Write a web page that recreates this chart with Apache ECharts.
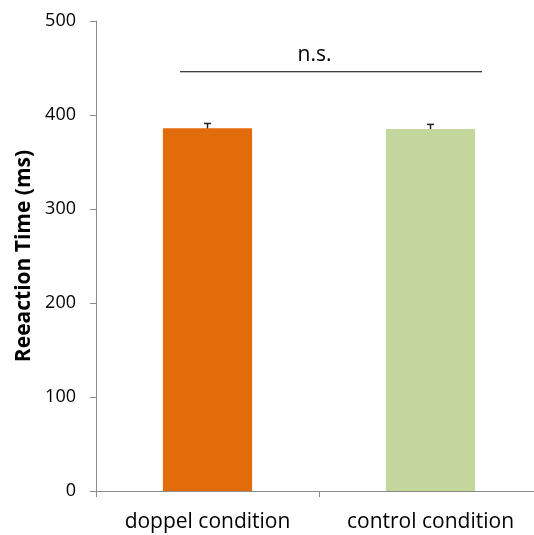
<!DOCTYPE html>
<html>
<head>
<meta charset="utf-8">
<script src="https://cdn.jsdelivr.net/npm/echarts@6/dist/echarts.min.js"></script>
<style>
  html, body { margin: 0; padding: 0; background: #fff; }
  #chart { width: 534px; height: 535px; }
</style>
</head>
<body>
<div id="chart"></div>
<script>
// chart data
const categories = ['doppel condition', 'control condition']
const reactionTimes = [386, 385]
const errors = [5, 5]
const barColors = ['#E36C0A', '#C3D69B']
const yTicks = [0, 100, 200, 300, 400, 500]

// significance bracket: ends given in category units, 0 = centre of first category
const sigFrom = -0.123
const sigTo = 1.231
const sigLevel = 446
const sigLabel = 'n.s.'

const font = '"Open Sans", sans-serif'
const axisGray = '#8C8C8C'

const chart = echarts.init(document.getElementById('chart'))

chart.setOption({
  animation: false,
  backgroundColor: '#fff',
  textStyle: { fontFamily: font },
  grid: { left: 96, top: 21, width: 446, height: 470, outerBoundsMode: 'none', containLabel: false },
  xAxis: {
    type: 'category',
    data: categories,
    axisLine: { lineStyle: { color: axisGray, width: 1 } },
    axisTick: { show: true, alignWithLabel: false, length: 6, lineStyle: { color: axisGray } },
    axisLabel: { color: '#000', fontSize: 21, margin: 21, fontFamily: font }
  },
  yAxis: {
    type: 'value',
    min: yTicks[0],
    max: yTicks[yTicks.length - 1],
    interval: 100,
    name: 'Reeaction Time (ms)',
    nameLocation: 'middle',
    nameGap: 59,
    nameTextStyle: { color: '#000', fontSize: 21, fontWeight: 'bold', fontFamily: font },
    axisLine: { show: true, lineStyle: { color: axisGray, width: 1 } },
    axisTick: { show: true, inside: false, length: 6, lineStyle: { color: axisGray } },
    axisLabel: { color: '#000', fontSize: 18, margin: 20, fontFamily: font },
    splitLine: { show: false }
  },
  series: [
    {
      type: 'bar',
      barWidth: '40%',
      z: 3,
      data: reactionTimes.map((v, i) => ({ value: v, itemStyle: { color: barColors[i] } }))
    },
    {
      type: 'custom',
      z: 2,
      data: reactionTimes.map((v, i) => [i, v - errors[i], v + errors[i]]),
      renderItem: (params, api) => {
        const lo = api.coord([api.value(0), api.value(1)])
        const hi = api.coord([api.value(0), api.value(2)])
        const half = 3.5
        const style = { stroke: '#222', lineWidth: 1.5 }
        return {
          type: 'group',
          children: [
            { type: 'line', shape: { x1: hi[0], y1: hi[1], x2: lo[0], y2: lo[1] }, style },
            { type: 'line', shape: { x1: hi[0] - half, y1: hi[1], x2: hi[0] + half, y2: hi[1] }, style },
            { type: 'line', shape: { x1: lo[0] - half, y1: lo[1], x2: lo[0] + half, y2: lo[1] }, style }
          ]
        }
      }
    },
    {
      type: 'custom',
      z: 4,
      data: [[0, sigLevel]],
      renderItem: (params, api) => {
        const p = api.coord([0, api.value(1)])
        const band = api.size([1, 0])[0]
        const x1 = p[0] + sigFrom * band
        const x2 = p[0] + sigTo * band
        return {
          type: 'group',
          children: [
            { type: 'line', shape: { x1, y1: p[1], x2, y2: p[1] }, style: { stroke: '#000', lineWidth: 1.2 } },
            {
              type: 'text',
              x: p[0] + 0.48 * band,
              y: p[1] - 6,
              style: { text: sigLabel, fill: '#000', font: '21px ' + font, align: 'center', verticalAlign: 'bottom' }
            }
          ]
        }
      }
    }
  ]
})
</script>
</body>
</html>
